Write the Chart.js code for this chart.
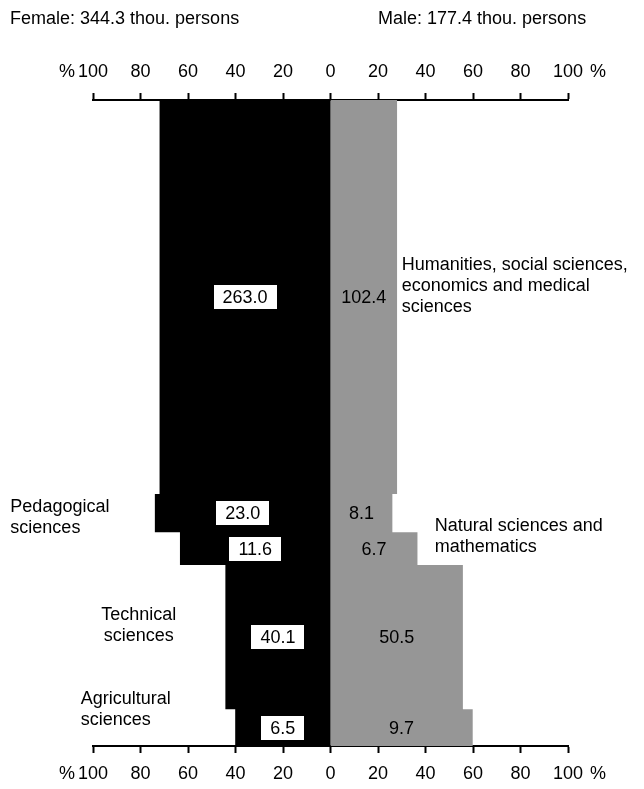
<!DOCTYPE html>
<html>
<head>
<meta charset="utf-8">
<script src="https://cdn.jsdelivr.net/npm/chart.js@4"></script>
<style>
  html, body { margin: 0; padding: 0; background: #ffffff; }
  canvas { display: block; }
</style>
</head>
<body>
<canvas id="chart" width="644" height="789"></canvas>
<script>
// ---------------- data ----------------
const categories = [
  ["Humanities, social sciences,", "economics and medical", "sciences"],
  ["Pedagogical", "sciences"],
  ["Natural sciences and", "mathematics"],
  ["Technical", "sciences"],
  ["Agricultural", "sciences"]
];
const femaleValues = [263.0, 23.0, 11.6, 40.1, 6.5];   // thou. persons
const maleValues   = [102.4, 8.1, 6.7, 50.5, 9.7];     // thou. persons
const bandHeights  = [61.0, 5.9, 5.1, 22.3, 5.7];      // vertical share of each field band, %
const femaleTotal = "344.3";
const maleTotal = "177.4";
const axisMin = -100, axisMax = 100, axisStep = 20;

// ---------------- layout for free texts (not data) ----------------
const categoryLabelLayout = [
  { x: 30,     y: 28.8, align: "left"   },
  { x: -134.8, y: 64.7, align: "left"   },
  { x: 43.9,   y: 67.6, align: "left"   },
  { x: -80.7,  y: 81.3, align: "center" },
  { x: -105.2, y: 94.4, align: "left"   }
];
const FONT = "'Liberation Sans', Arial, Helvetica, sans-serif";
const FSIZE = 18;

// ---------------- derived shapes ----------------
const femalePct = femaleValues.map((f, i) => f / (f + maleValues[i]) * 100);
const malePct   = maleValues.map((m, i) => m / (femaleValues[i] + m) * 100);
const bandTop = [], bandBottom = [];
let cum = 0;
bandHeights.forEach(h => { bandTop.push(cum); cum += h; bandBottom.push(cum); });

const femaleShape = [{ x: 0, y: 0 }];
femalePct.forEach((p, i) => { femaleShape.push({ x: -p, y: bandTop[i] }, { x: -p, y: bandBottom[i] }); });
femaleShape.push({ x: 0, y: cum });

const maleShape = [{ x: 0, y: 0 }];
malePct.forEach((p, i) => { maleShape.push({ x: p, y: bandTop[i] }, { x: p, y: bandBottom[i] }); });
maleShape.push({ x: 0, y: cum });

// ---------------- text plugin ----------------
const textPlugin = {
  id: "texts",
  afterDraw(chart) {
    const ctx = chart.ctx;
    const xs = chart.scales.x, ys = chart.scales.y, xt = chart.scales.x2;
    ctx.save();
    ctx.font = FSIZE + "px " + FONT;
    ctx.textBaseline = "middle";

    // value labels
    femaleValues.forEach((v, i) => {
      const cy = ys.getPixelForValue((bandTop[i] + bandBottom[i]) / 2);
      const fx = xs.getPixelForValue(-femalePct[i] / 2);
      const txt = v.toFixed(1);
      const w = ctx.measureText(txt).width + 18;
      ctx.fillStyle = "#ffffff";
      ctx.fillRect(Math.round(fx - w / 2), Math.round(cy - 12), Math.round(w), 24);
      ctx.fillStyle = "#000000";
      ctx.textAlign = "center";
      ctx.fillText(txt, fx, cy + 1);
      const mx = xs.getPixelForValue(malePct[i] / 2);
      ctx.fillText(maleValues[i].toFixed(1), mx, cy + 1);
    });

    // category labels
    const lh = 21;
    categories.forEach((lines, i) => {
      const L = categoryLabelLayout[i];
      const px = xs.getPixelForValue(L.x);
      const py = ys.getPixelForValue(L.y);
      ctx.textAlign = L.align;
      ctx.fillStyle = "#000000";
      lines.forEach((t, k) => {
        ctx.fillText(t, px, py + (k - (lines.length - 1) / 2) * lh);
      });
    });

    // "%" marks beside the axes
    const topY = xt.bottom - 7 - 10 - 10.8;
    const botY = xs.top + 7 + 10 + 10.8;
    ctx.textAlign = "center";
    const lp = xs.getPixelForValue(axisMin) - 26;
    const rp = xs.getPixelForValue(axisMax) + 30;
    [topY, botY].forEach(y => { ctx.fillText("%", lp, y); ctx.fillText("%", rp, y); });

    // titles
    ctx.textAlign = "left";
    ctx.fillText("Female: " + femaleTotal + " thou. persons", 10, 19);
    ctx.fillText("Male: " + maleTotal + " thou. persons", 378, 19);
    ctx.restore();
  }
};

const axisCommon = (position, boxHeight) => ({
  type: "linear",
  position: position,
  min: axisMin,
  max: axisMax,
  afterFit: (scale) => { scale.height = boxHeight; },
  ticks: {
    stepSize: axisStep,
    autoSkip: false,
    maxRotation: 0,
    color: "#000000",
    padding: 10,
    font: { family: FONT, size: FSIZE },
    callback: v => Math.abs(v)
  },
  grid: {
    display: true,
    drawOnChartArea: false,
    drawTicks: true,
    tickLength: 7,
    tickWidth: 2,
    tickColor: "#000000",
    color: "#000000"
  },
  border: { display: true, color: "#000000", width: 2 }
});

new Chart(document.getElementById("chart").getContext("2d"), {
  type: "scatter",
  data: {
    datasets: [
      { label: "Female", data: femaleShape, showLine: true, fill: "shape",
        backgroundColor: "#000000", borderColor: "rgba(0,0,0,0)", borderWidth: 0,
        pointRadius: 0, tension: 0 },
      { label: "Male", data: maleShape, showLine: true, fill: "shape",
        backgroundColor: "#969696", borderColor: "rgba(0,0,0,0)", borderWidth: 0,
        pointRadius: 0, tension: 0 }
    ]
  },
  options: {
    responsive: false,
    animation: false,
    events: [],
    layout: { padding: { left: 93, right: 76, top: 0, bottom: 0 } },
    plugins: { legend: { display: false }, tooltip: { enabled: false }, title: { display: false } },
    scales: {
      x: axisCommon("bottom", 43),
      x2: axisCommon("top", 100),
      y: { type: "linear", display: false, min: 0, max: cum, reverse: true }
    }
  },
  plugins: [textPlugin]
});
</script>
</body>
</html>
